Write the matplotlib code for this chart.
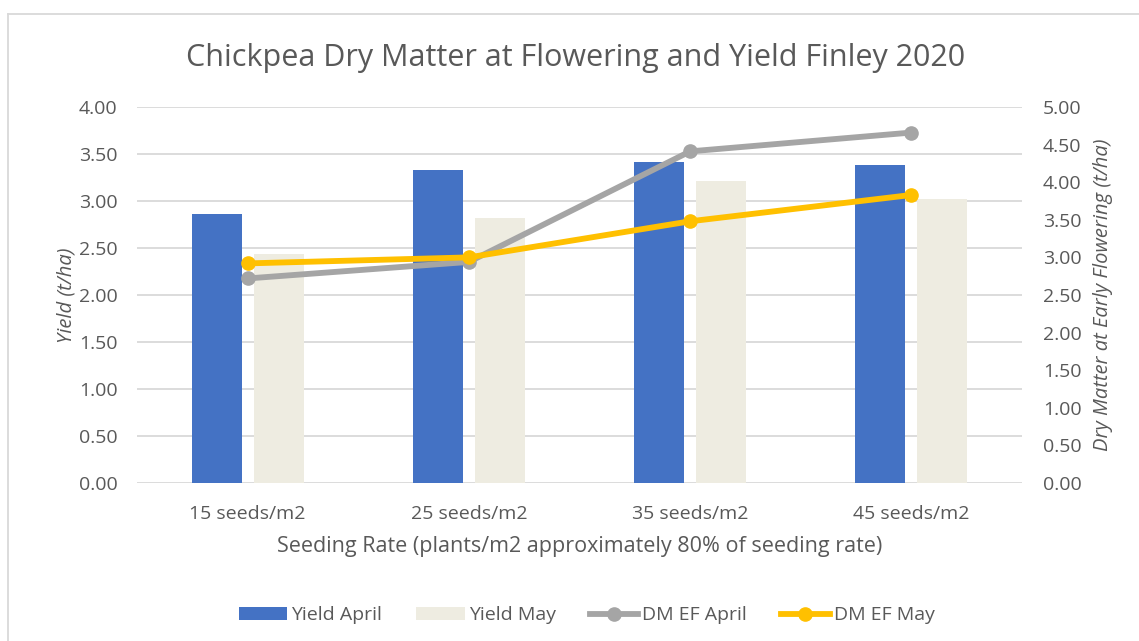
import numpy as np
import matplotlib.pyplot as plt
from matplotlib.lines import Line2D

plt.rcParams['font.family'] = ['Open Sans', 'DejaVu Sans']

# data
categories = ['15 seeds/m2', '25 seeds/m2', '35 seeds/m2', '45 seeds/m2']
yield_april = [2.86, 3.33, 3.42, 3.38]
yield_may = [2.44, 2.82, 3.21, 3.02]
dm_ef_april = [2.72, 2.94, 4.41, 4.66]
dm_ef_may = [2.92, 3.00, 3.48, 3.83]

blue = '#4472C4'
cream = '#EEECE1'
grey = '#A5A5A5'
gold = '#FFC000'
text_col = '#595959'

fig = plt.figure(figsize=(11.39, 6.41), dpi=100)
ax = fig.add_axes([0.1203, 0.2465, 0.777, 0.5866])
ax2 = ax.twinx()

x = np.arange(len(categories))
w = 0.226
ax.bar(x - 0.14, yield_april, w, color=blue, label='Yield April', zorder=2)
ax.bar(x + 0.14, yield_may, w, color=cream, label='Yield May', zorder=2)

ax2.plot(x, dm_ef_april, color=grey, lw=4.2, marker='o', ms=9.5, label='DM EF April')
ax2.plot(x, dm_ef_may, color=gold, lw=4.2, marker='o', ms=9.5, label='DM EF May')

ax.set_xlim(-0.5, 3.5)
ax.set_ylim(0, 4)
ax2.set_ylim(0, 5)
ax.set_yticks(np.arange(0, 4.01, 0.5))
ax2.set_yticks(np.arange(0, 5.01, 0.5))
ax.set_yticklabels(['%.2f' % v for v in np.arange(0, 4.01, 0.5)])
ax2.set_yticklabels(['%.2f' % v for v in np.arange(0, 5.01, 0.5)])
ax.set_xticks(x)
ax.set_xticklabels(categories)

ax.grid(axis='y', color='#D9D9D9', lw=1.3, zorder=0)
ax.set_axisbelow(True)
for a in (ax, ax2):
    for s in a.spines.values():
        s.set_visible(False)
    a.tick_params(length=0, labelsize=14, colors=text_col)
ax.tick_params(axis='y', pad=14)
ax2.tick_params(axis='y', pad=15)
ax.tick_params(axis='x', pad=16)

ax.set_ylabel('Yield (t/ha)', fontsize=14.5, style='italic', color=text_col, labelpad=2)
ax2.set_ylabel('Dry Matter at Early Flowering (t/ha)', fontsize=14.5, style='italic',
               color=text_col, labelpad=8)
ax.set_xlabel('Seeding Rate (plants/m2 approximately 80% of seeding rate)',
              fontsize=15.5, color=text_col, labelpad=9)

fig.text(0.505, 0.909, 'Chickpea Dry Matter at Flowering and Yield Finley 2020',
         ha='center', va='center', fontsize=22, color=text_col)

h1, l1 = ax.get_legend_handles_labels()
h2, l2 = ax2.get_legend_handles_labels()
fig.legend(h1 + h2, l1 + l2, loc='center', bbox_to_anchor=(0.515, 0.040), ncol=4,
           frameon=False, fontsize=14, labelcolor=text_col, handlelength=2.5,
           handletextpad=0.2, columnspacing=1.75)

# chart border (top and left edges visible in the crop)
fig.add_artist(Line2D([8 / 1139, 8 / 1139], [0, 1 - 14 / 641], color='#D9D9D9', lw=1.3))
fig.add_artist(Line2D([8 / 1139, 1], [1 - 14 / 641, 1 - 14 / 641], color='#D9D9D9', lw=1.3))

fig.savefig('out.png', dpi=100)
